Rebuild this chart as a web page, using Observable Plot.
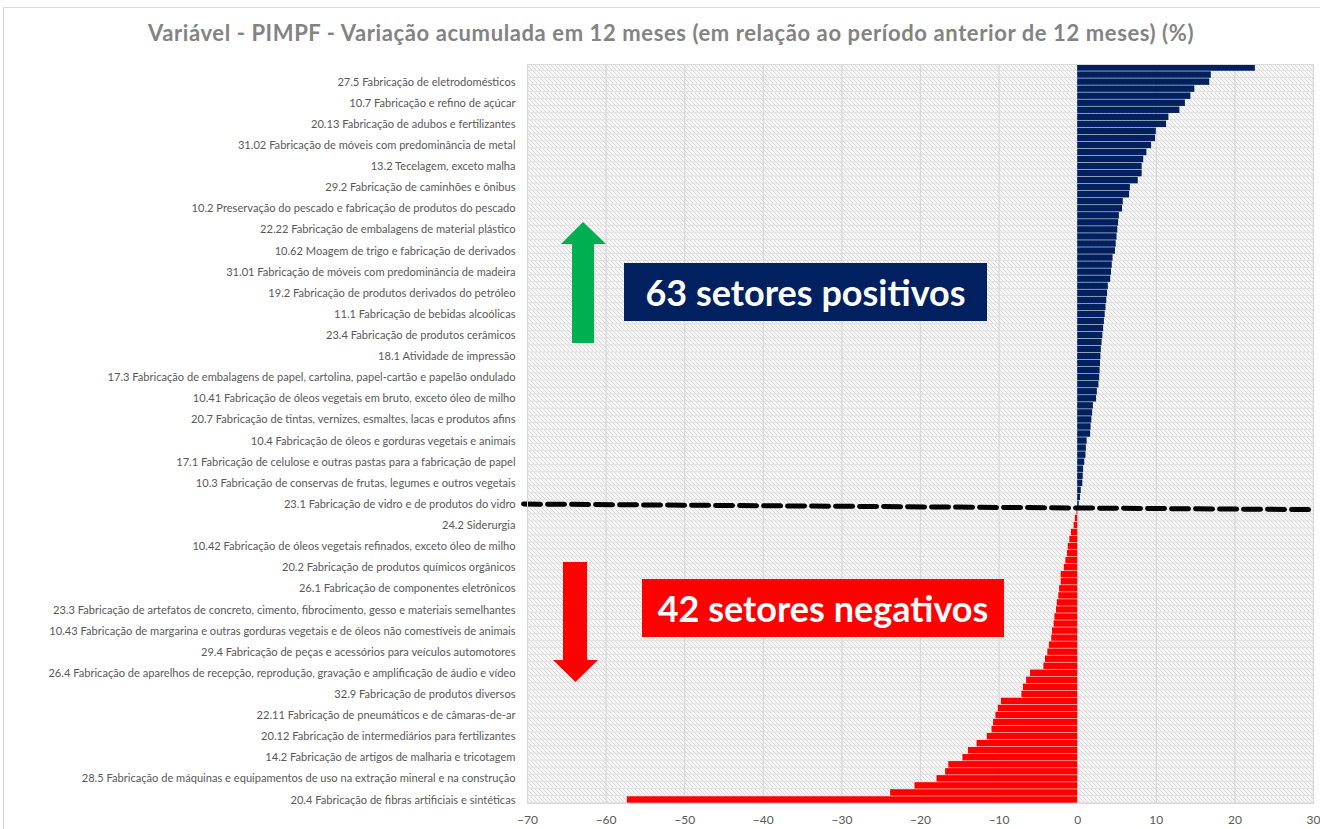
<!DOCTYPE html>
<html>
<head>
<meta charset="utf-8">
<script src="https://cdn.jsdelivr.net/npm/d3@7"></script>
<script src="https://cdn.jsdelivr.net/npm/@observablehq/plot@0.6"></script>
<style>
html, body { margin: 0; padding: 0; background: #fff; }
#wrap { position: relative; width: 1320px; height: 829px; overflow: hidden; font-family: Lato, "Open Sans", sans-serif; }
#border { position: absolute; left: 3px; top: 7px; width: 1330px; height: 840px; border-top: 1px solid #d9d9d9; border-left: 1px solid #d9d9d9; }
#title { position: absolute; left: 11px; top: 20px; width: 1320px; text-align: center; font-weight: bold; font-size: 22px; letter-spacing: 0.6px; line-height: 26px; color: #838383; }
#chart { position: absolute; left: 0; top: 50px; }
#overlay { position: absolute; left: 0; top: 0; pointer-events: none; }
.box { position: absolute; color: #fff; font-weight: bold; font-size: 36px; display: flex; align-items: center; justify-content: center; white-space: nowrap; }
</style>
</head>
<body>
<svg width="0" height="0" style="position:absolute">
  <defs>
    <pattern id="hatch" patternUnits="userSpaceOnUse" width="4" height="4">
      <rect width="4" height="4" fill="#f7f7f7"></rect>
      <path d="M-1,3 l2,2 M0,0 l4,4 M3,-1 l2,2" stroke="#d8d8d8" stroke-width="1"></path>
    </pattern>
  </defs>
</svg>
<div id="wrap">
  <div id="border"></div>
  <div id="title">Variável - PIMPF - Variação acumulada em 12 meses (em relação ao período anterior de 12 meses) (%)</div>
  <div id="chart"></div>
  <svg id="overlay" width="1320" height="829">
    <polygon points="583,222 606,244 594,244 594,343 572,343 572,244 561,244" fill="#00b050"></polygon>
    <polygon points="563,562 587,562 587,660 598,660 575.5,682 553,660 563,660" fill="#ff0000"></polygon>
  </svg>
  <div class="box" style="left:624px; top:263px; width:363px; height:58px; background:#002060;">63 setores positivos</div>
  <div class="box" style="left:642px; top:579px; width:362px; height:58px; background:#ff0000;">42 setores negativos</div>
</div>
<script>
// Sector values, top to bottom (63 positive, 42 negative)
const positiveValues = [
  22.6, 17.0, 16.8, 14.9, 14.4, 13.7, 13.0, 11.6, 11.3, 10.0,
  9.9, 9.4, 8.8, 8.4, 8.2, 8.2, 7.7, 6.7, 6.6, 5.8,
  5.7, 5.3, 5.2, 5.1, 5.0, 4.9, 4.8, 4.5, 4.4, 4.3,
  4.2, 3.9, 3.8, 3.7, 3.6, 3.5, 3.4, 3.3, 3.2, 3.1,
  3.0, 2.95, 2.9, 2.85, 2.8, 2.7, 2.5, 2.4, 2.0, 1.9,
  1.8, 1.7, 1.65, 1.2, 1.1, 1.05, 0.9, 0.75, 0.7, 0.65,
  0.45, 0.35, 0.2
];
const negativeValues = [
  -0.1, -0.3, -0.45, -0.8, -1.0, -1.2, -1.3, -1.5, -1.7, -2.1,
  -2.1, -2.3, -2.4, -2.6, -2.7, -2.9, -3.0, -3.2, -3.3, -3.6,
  -3.8, -4.1, -4.3, -6.0, -6.5, -6.9, -7.1, -9.7, -10.1, -10.4,
  -10.7, -10.9, -11.5, -12.8, -13.9, -14.6, -16.4, -16.8, -17.9, -20.7,
  -23.8, -57.3
];
// Category labels shown on the axis (every third sector)
const tickLabels = [
  "27.5 Fabricação de eletrodomésticos",
  "10.7 Fabricação e refino de açúcar",
  "20.13 Fabricação de adubos e fertilizantes",
  "31.02 Fabricação de móveis com predominância de metal",
  "13.2 Tecelagem, exceto malha",
  "29.2 Fabricação de caminhões e ônibus",
  "10.2 Preservação do pescado e fabricação de produtos do pescado",
  "22.22 Fabricação de embalagens de material plástico",
  "10.62 Moagem de trigo e fabricação de derivados",
  "31.01 Fabricação de móveis com predominância de madeira",
  "19.2 Fabricação de produtos derivados do petróleo",
  "11.1 Fabricação de bebidas alcoólicas",
  "23.4 Fabricação de produtos cerâmicos",
  "18.1 Atividade de impressão",
  "17.3 Fabricação de embalagens de papel, cartolina, papel-cartão e papelão ondulado",
  "10.41 Fabricação de óleos vegetais em bruto, exceto óleo de milho",
  "20.7 Fabricação de tintas, vernizes, esmaltes, lacas e produtos afins",
  "10.4 Fabricação de óleos e gorduras vegetais e animais",
  "17.1 Fabricação de celulose e outras pastas para a fabricação de papel",
  "10.3 Fabricação de conservas de frutas, legumes e outros vegetais",
  "23.1 Fabricação de vidro e de produtos do vidro",
  "24.2 Siderurgia",
  "10.42 Fabricação de óleos vegetais refinados, exceto óleo de milho",
  "20.2 Fabricação de produtos químicos orgânicos",
  "26.1 Fabricação de componentes eletrônicos",
  "23.3 Fabricação de artefatos de concreto, cimento, fibrocimento, gesso e materiais semelhantes",
  "10.43 Fabricação de margarina e outras gorduras vegetais e de óleos não comestíveis de animais",
  "29.4 Fabricação de peças e acessórios para veículos automotores",
  "26.4 Fabricação de aparelhos de recepção, reprodução, gravação e amplificação de áudio e vídeo",
  "32.9 Fabricação de produtos diversos",
  "22.11 Fabricação de pneumáticos e de câmaras-de-ar",
  "20.12 Fabricação de intermediários para fertilizantes",
  "14.2 Fabricação de artigos de malharia e tricotagem",
  "28.5 Fabricação de máquinas e equipamentos de uso na extração mineral e na construção",
  "20.4 Fabricação de fibras artificiais e sintéticas"
];
const xTicks = [-70, -60, -50, -40, -30, -20, -10, 0, 10, 20, 30];

const labelStep = 3, labelOffset = 2;
const values = positiveValues.concat(negativeValues);
const rows = values.map((v, i) => ({i, v}));
const n = rows.length;
const tickIdx = tickLabels.map((_, k) => k * labelStep + labelOffset);
const labelOf = new Map(tickIdx.map((t, k) => [t, tickLabels[k]]));
const navy = "#002060", red = "#ff0000";
const xMin = xTicks[0], xMax = xTicks[xTicks.length - 1];
const boundary = positiveValues.length - 0.5;
// hand-drawn divider in the original is slightly tilted around the boundary
const divider = [{x: xMin - 0.5, y: boundary - 0.55}, {x: xMax, y: boundary + 0.25}];

const chart = Plot.plot({
  width: 1320,
  height: 779,
  marginTop: 14,
  marginBottom: 26,
  marginLeft: 527,
  marginRight: 7,
  style: {fontFamily: "Lato, 'Open Sans', sans-serif", fontSize: "11.1px", color: "#595959", background: "transparent", overflow: "visible"},
  x: {domain: [xMin, xMax]},
  y: {domain: [-0.5, n - 0.5], reverse: true},
  marks: [
    Plot.frame({fill: "#e3e3e3"}),
    Plot.rectX(rows, {x1: () => xMin, x2: () => xMax, y1: d => d.i - 0.5, y2: d => d.i + 0.5, fill: "url(#hatch)", insetBottom: 1.2}),
    Plot.ruleX(xTicks, {stroke: "#d9d9d9", strokeWidth: 1.3}),
    Plot.rectX(rows, {x1: () => 0, x2: "v", y1: d => d.i - 0.5, y2: d => d.i + 0.5, fill: d => d.v >= 0 ? navy : red, insetTop: 0.3, insetBottom: 0.3}),
    Plot.line(divider, {x: "x", y: "y", stroke: "#000", strokeWidth: 5, strokeDasharray: "17,7"}),
    Plot.axisY({ticks: tickIdx, tickFormat: i => labelOf.get(i), tickSize: 0, tickPadding: 12, label: null}),
    Plot.axisX({ticks: xTicks, tickSize: 0, tickPadding: 12, label: null, fontSize: 12}),
    Plot.frame({stroke: "#d9d9d9"})
  ]
});
document.getElementById("chart").appendChild(chart);
</script>
</body>
</html>
